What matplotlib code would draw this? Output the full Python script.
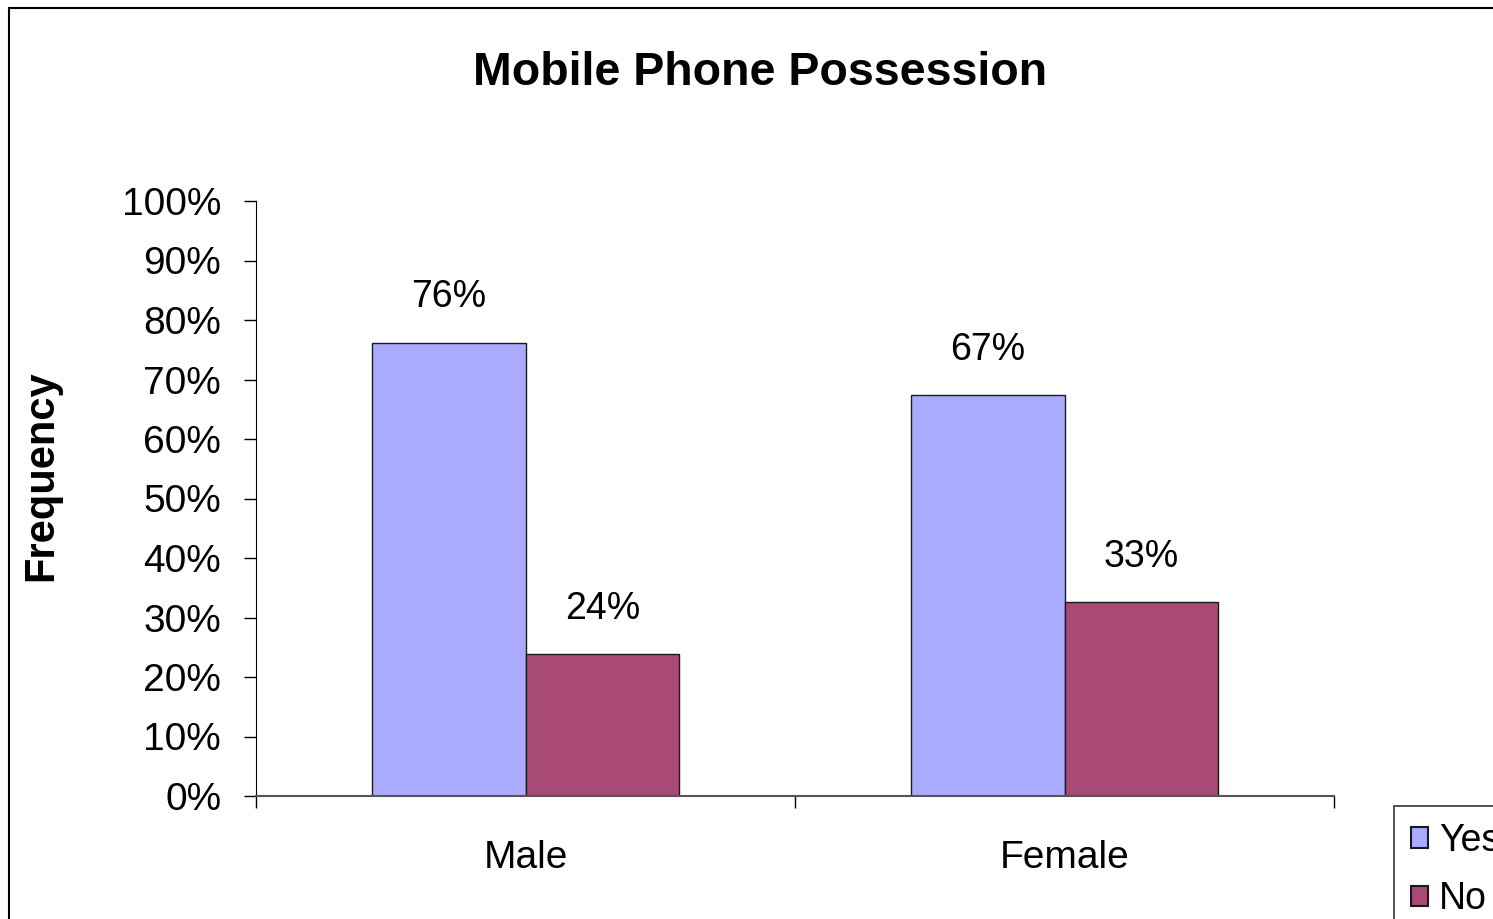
import matplotlib
matplotlib.use("Agg")
import matplotlib.pyplot as plt
from matplotlib.patches import Rectangle
import numpy as np

categories = ["Male", "Female"]
series_names = ["Yes", "No"]
yes_values = [0.762, 0.674]
no_values = [0.238, 0.326]
yticks = [0, 0.1, 0.2, 0.3, 0.4, 0.5, 0.6, 0.7, 0.8, 0.9, 1.0]
ytick_labels = ["0%", "10%", "20%", "30%", "40%", "50%", "60%", "70%", "80%", "90%", "100%"]

plt.rcParams['font.family'] = ['Liberation Sans', 'DejaVu Sans']

W, H = 1493, 919
fig = plt.figure(figsize=(W / 100, H / 100), dpi=100)
fig.patch.set_facecolor("white")

# outer chart border
fig.patches.append(Rectangle((9 / W, -0.1), 1.2, 1 - 8 / H + 0.1, transform=fig.transFigure,
                             fill=False, edgecolor="black", linewidth=1.5))

ax = fig.add_axes([256 / W, 1 - 796 / H, (1334 - 256) / W, (796 - 201) / H])
ax.set_facecolor("none")

x = np.arange(len(categories))
bw = 0.2857
c_yes = "#AAAAFF"
c_no = "#A94A76"
b1 = ax.bar(x - bw / 2, yes_values, bw, color=c_yes, edgecolor="#1a1a1a", linewidth=1.0, label="Yes")
b2 = ax.bar(x + bw / 2, no_values, bw, color=c_no, edgecolor="#1a1a1a", linewidth=1.0, label="No")

for bars, vals in ((b1, yes_values), (b2, no_values)):
    for r, v in zip(bars, vals):
        ax.annotate(f"{round(v * 100):.0f}%", (r.get_x() + r.get_width() / 2, v),
                    xytext=(0, 32.5), textcoords="offset points",
                    ha="center", va="center", fontsize=27)

ax.set_xlim(-0.5, 1.5)
ax.set_ylim(0, 1.0)
ax.set_yticks(yticks)
ax.set_yticklabels(ytick_labels, fontsize=28)
ax.tick_params(axis="y", direction="out", length=8.6, width=1, pad=16.5, colors="black")
ax.set_xticks([-0.5, 0.5, 1.5])
ax.set_xticklabels([])
ax.tick_params(axis="x", which="major", direction="out", length=8.6, width=1)
ax.set_xticks(x, minor=True)
ax.set_xticklabels(categories, minor=True, fontsize=28)
ax.tick_params(axis="x", which="minor", length=0, pad=31.5)

for s in ("top", "right"):
    ax.spines[s].set_visible(False)
ax.spines["left"].set_color("black")
ax.spines["bottom"].set_color("#555555")
ax.spines["bottom"].set_linewidth(1.5)

fig.text(760 / W, 1 - 73 / H, "Mobile Phone Possession", ha="center", va="center",
         fontsize=33.5, fontweight="bold")
fig.text(41 / W, 1 - 476 / H, "Frequency", ha="center", va="center", rotation=90,
         fontsize=30, fontweight="bold")

leg = fig.legend(handles=[b1, b2], labels=series_names, loc="upper left",
                 bbox_to_anchor=(1394 / W, 1 - 806 / H), fontsize=27,
                 handlelength=0.45, handleheight=0.45, handletextpad=0.3,
                 borderpad=0.45, labelspacing=0.6, borderaxespad=0,
                 frameon=True, fancybox=False, edgecolor="black")
leg.get_frame().set_linewidth(1.2)
for h in leg.legend_handles:
    h.set_linewidth(1.5)
leg._legend_box.set_offset(leg._legend_box.get_offset) if False else None

fig.savefig("out.png", dpi=100)
